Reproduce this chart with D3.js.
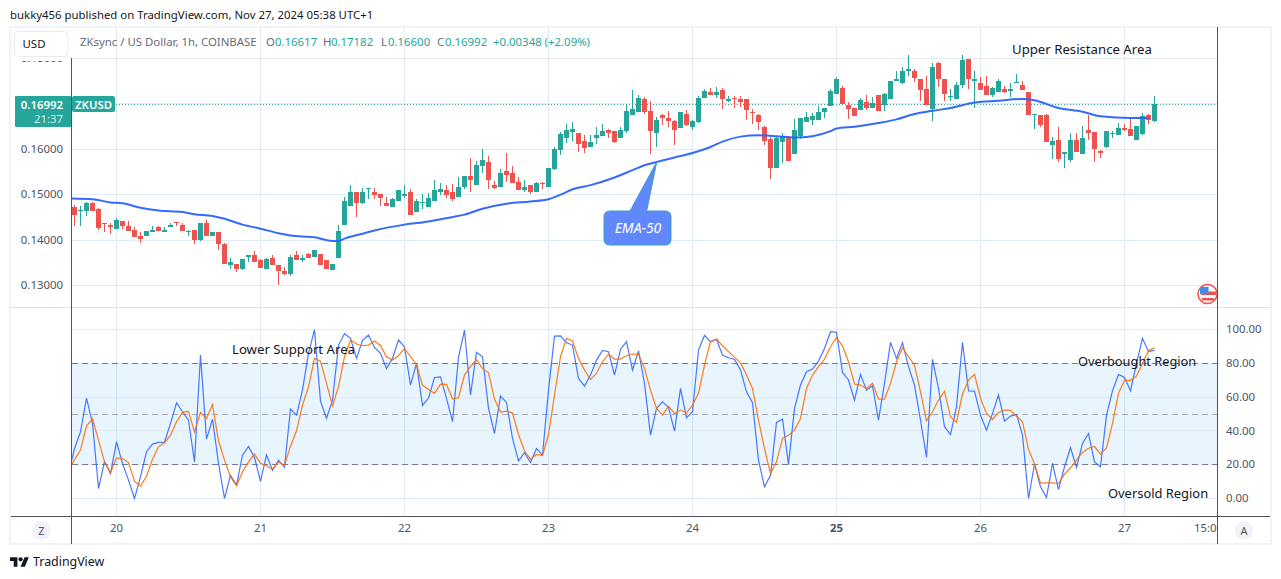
<!DOCTYPE html>
<html>
<head lang="en">
<meta charset="utf-8">
<title>ZKsync / US Dollar, 1h</title>
<style>
html, body { margin:0; padding:0; background:#fff; overflow:hidden; }
svg { display:block; }
text { font-family:"Noto Sans",sans-serif; }
</style>
<script src="https://cdn.jsdelivr.net/npm/d3@7"></script>
</head>
<body>
<script>
// Hourly candles, one entry per bar
var opens = [.1473,.1464,.1463,.1481,.1468,.1438,.1434,.1425,.1443,.1432,.1423,.1410,.1410,.1417,.1428,.1417,.1428,.1439,.1434,.1417,
.1423,.1401,.1437,.1410,.1417,.1392,.1346,.1348,.1337,.1363,.1366,.1357,.1337,.1361,.1344,.1332,.1326,.1368,.1355,.1370,
.1363,.1370,.1355,.1335,.1361,.1434,.1476,.1505,.1481,.1512,.1507,.1501,.1481,.1472,.1487,.1496,.1507,.1461,.1481,.1472,
.1487,.1507,.1510,.1505,.1494,.1518,.1541,.1521,.1563,.1572,.1521,.1516,.1552,.1547,.1527,.1510,.1521,.1507,.1525,.1516,
.1556,.1598,.1625,.1638,.1636,.1618,.1605,.1625,.1629,.1642,.1640,.1625,.1640,.1676,.1682,.1711,.1685,.1636,.1676,.1669,
.1662,.1647,.1678,.1649,.1660,.1713,.1727,.1720,.1731,.1707,.1713,.1711,.1711,.1682,.1676,.1649,.1623,.1558,.1616,.1627,
.1589,.1629,.1660,.1665,.1665,.1682,.1696,.1723,.1736,.1698,.1692,.1687,.1705,.1692,.1720,.1698,.1711,.1751,.1747,.1773,
.1773,.1754,.1734,.1689,.1791,.1756,.1716,.1711,.1742,.1800,.1751,.1747,.1740,.1720,.1727,.1734,.1729,.1747,.1742,.1727,
.1676,.1676,.1676,.1610,.1621,.1590,.1576,.1621,.1590,.1643,.1638,.1596,.1605,.1634,.1632,.1647,.1645,.1621,.1634,.1676,.16617];
var highs = [.1478,.1476,.1483,.1483,.1471,.1438,.1438,.1448,.1443,.1441,.1428,.1417,.1419,.1432,.1432,.1428,.1437,.1439,.1437,.1423,
.1423,.1437,.1445,.1417,.1417,.1394,.1361,.1348,.1359,.1366,.1375,.1359,.1361,.1368,.1344,.1341,.1368,.1375,.1368,.1372,
.1379,.1370,.1355,.1348,.1434,.1494,.1521,.1507,.1514,.1514,.1514,.1501,.1494,.1492,.1510,.1521,.1512,.1490,.1501,.1503,
.1532,.1525,.1521,.1523,.1538,.1541,.1580,.1574,.1600,.1585,.1530,.1556,.1592,.1563,.1538,.1532,.1521,.1527,.1527,.1558,
.1605,.1638,.1656,.1660,.1636,.1631,.1631,.1649,.1656,.1645,.1640,.1649,.1698,.1731,.1720,.1716,.1707,.1671,.1678,.1685,
.1665,.1682,.1687,.1665,.1718,.1733,.1735,.1738,.1735,.1718,.1718,.1718,.1711,.1689,.1678,.1651,.1627,.1629,.1636,.1629,
.1667,.1669,.1682,.1680,.1696,.1691,.1734,.1760,.1740,.1705,.1692,.1714,.1720,.1716,.1720,.1725,.1751,.1773,.1782,.1809,
.1778,.1754,.1762,.1791,.1793,.1756,.1734,.1749,.1807,.1800,.1773,.1760,.1762,.1738,.1756,.1740,.1747,.1767,.1751,.1727,
.1678,.1676,.1678,.1627,.1649,.1594,.1636,.1636,.1652,.1676,.1638,.1599,.1641,.1641,.1658,.1656,.1669,.1652,.1680,.1678,.17182];
var lows = [.1432,.1430,.1452,.1465,.1423,.1417,.1414,.1425,.1425,.1421,.1406,.1394,.1410,.1417,.1421,.1417,.1428,.1430,.1419,.1408,
.1392,.1397,.1408,.1410,.1379,.1348,.1337,.1330,.1335,.1352,.1352,.1339,.1337,.1346,.1301,.1324,.1321,.1357,.1352,.1361,
.1363,.1344,.1337,.1335,.1361,.1434,.1476,.1450,.1479,.1490,.1490,.1474,.1474,.1472,.1487,.1492,.1456,.1461,.1468,.1472,
.1487,.1499,.1492,.1485,.1494,.1512,.1507,.1521,.1547,.1512,.1512,.1516,.1527,.1525,.1510,.1505,.1501,.1505,.1512,.1516,
.1554,.1587,.1614,.1618,.1594,.1592,.1605,.1611,.1629,.1625,.1614,.1625,.1636,.1676,.1682,.1678,.1589,.1605,.1654,.1649,
.1609,.1647,.1651,.1642,.1658,.1713,.1720,.1713,.1689,.1704,.1691,.1693,.1665,.1656,.1642,.1609,.1534,.1558,.1569,.1574,
.1589,.1623,.1660,.1654,.1665,.1669,.1696,.1723,.1700,.1667,.1674,.1687,.1687,.1692,.1685,.1685,.1711,.1751,.1745,.1762,
.1749,.1707,.1698,.1663,.1738,.1707,.1707,.1711,.1736,.1734,.1692,.1731,.1720,.1716,.1727,.1725,.1716,.1747,.1731,.1676,
.1645,.1649,.1616,.1579,.1572,.1559,.1572,.1594,.1590,.1621,.1572,.1581,.1603,.1625,.1632,.1641,.1630,.1621,.1632,.1656,.16600];
var closes = [.1456,.1466,.1481,.1465,.1427,.1437,.1428,.1445,.1432,.1421,.1406,.1403,.1419,.1423,.1421,.1423,.1434,.1437,.1419,.1420,
.1401,.1437,.1408,.1417,.1392,.1348,.1352,.1337,.1359,.1366,.1352,.1339,.1359,.1346,.1332,.1326,.1363,.1357,.1361,.1361,
.1379,.1344,.1337,.1348,.1421,.1487,.1507,.1481,.1507,.1514,.1499,.1492,.1474,.1490,.1510,.1501,.1456,.1487,.1483,.1492,
.1510,.1512,.1499,.1490,.1518,.1541,.1532,.1565,.1576,.1532,.1514,.1547,.1543,.1525,.1510,.1516,.1507,.1525,.1523,.1558,
.1600,.1634,.1642,.1645,.1611,.1603,.1616,.1631,.1640,.1636,.1616,.1642,.1685,.1689,.1713,.1682,.1640,.1665,.1669,.1662,
.1642,.1682,.1654,.1662,.1713,.1729,.1720,.1727,.1711,.1711,.1711,.1704,.1687,.1680,.1660,.1618,.1558,.1625,.1629,.1574,
.1642,.1669,.1671,.1673,.1682,.1691,.1729,.1756,.1700,.1689,.1674,.1709,.1692,.1703,.1685,.1723,.1751,.1754,.1773,.1776,
.1758,.1731,.1698,.1782,.1756,.1723,.1718,.1742,.1798,.1754,.1756,.1731,.1720,.1736,.1751,.1727,.1734,.1749,.1731,.1676,
.1678,.1654,.1616,.1618,.1579,.1594,.1621,.1594,.1625,.1636,.1601,.1592,.1641,.1636,.1647,.1643,.1630,.1652,.1674,.1665,.16992];

// EMA-50, read at these bars only
var emaBars = [-1,3,6,8,11,14,18,20,23,25,28,31,34,36,40,43,44,45,48,50,55,59,63,65,68,72,76,79,81,83,86,90,93,95,97,100,103,106,108,111,114,117,120,123,126,127,130,134,137,140,143,146,150,154,158,160,164,168,171,176,179];
var emaValues = [.1492,.1490,.1483,.1481,.1471,.1465,.1462,.1457,.1453,.1447,.1434,.1425,.1415,.1410,.1406,.1398,.1398,.1403,.1414,.1421,.1434,.1441,.1451,.1456,.1469,.1480,.1485,.1490,.1500,.1512,.1521,.1538,.1554,.1565,.1572,.1582,.1592,.1605,.1617,.1628,.1631,.1629,.1626,.1629,.1640,.1646,.1650,.1658,.1666,.1678,.1685,.1691,.1703,.1707,.1711,.1708,.1691,.1683,.1673,.1669,.1669];

// Stochastic RSI, first entry is the bar before the first candle
var stochK = [14.8,29.6,39.5,59.5,44.5,5.9,21.9,14.8,33.6,20.8,10.9,0,12.8,27.7,32.2,33.2,33.4,44.5,56.7,51.4,46.4,21.7,85,35.2,47,20.8,0,13.8,7.9,25.7,30.8,24.3,10.1,25.9,16.6,22.7,18.6,53,49.4,64.2,86,100,57.7,47.4,58.3,90.9,97.6,94.9,83,93.5,96.8,89.5,86,77,83,93.9,89.9,67.2,80,55.1,59.5,71.7,72.1,59.3,45.5,83.6,
99.8,61.3,86.6,84,53.4,38.5,60.7,56.9,35.6,22.3,27.1,21.3,29.6,25.7,64.2,96.2,96.4,92.3,90.9,71.1,66.6,73.1,82,87.7,87,73.1,88.3,92.9,76.1,87.4,68.2,37.5,53.4,57.3,54,39.9,65.2,47.8,51.4,87.9,96.6,92.9,94.3,85,83.4,82.4,76.1,63.2,56.7,22.7,6.9,13.8,45.1,47,20.2,53.4,67.2,75.1,76.7,81.4,88.9,98.8,98.4,74.7,70.2,
58.3,73.5,64.2,66.8,46.4,68.2,92.5,83,92.3,78.1,67.2,46.4,24.3,82.4,65.2,42.5,37.9,54.3,92.5,63.8,63.6,49.4,40.5,50.4,61.3,45.8,48.8,49.8,37.5,0,20.4,6.9,0.6,20.8,5.3,18.8,30.2,18.4,32.6,38.5,21.7,18.8,49.4,63.8,73.5,71.7,63.8,80,94.9,87,87.9];
var stochD = [16.8,23,28.7,42.9,47.2,34.6,21.7,15.2,24.1,23.7,21.3,10.3,7.3,13.2,23.3,30.6,33,37.5,45.5,51,51.6,39.5,51,47.4,55.7,34.2,22.7,12.8,7.5,15.8,21.7,26.3,20.9,19.4,17.4,21.7,19.6,31,40.1,55.3,66.2,83,81.4,68.2,54.9,66.2,84,93.9,91.5,90.5,90.9,93.3,90.7,84,82,84.6,88.9,84,79.4,67.2,64.6,62.3,67.8,67.6,58.9,59.7,
73.1,78.1,82.2,76.9,74.5,58.9,51.2,51.8,50.6,37.9,28.1,23.3,26.1,25.5,37.9,61.3,84,94.9,93.3,83,76.1,70.6,74.1,81,85.6,82.6,82.6,84.6,85.6,85.4,77.1,64.2,53.4,49.4,54.7,50.4,52.4,50.8,55.3,62.3,79,92.9,94.5,90.5,87,83.6,80.4,73.1,65.2,46.4,29.6,14.8,21.7,35.6,37.5,40.5,47.4,65.2,73.1,78.1,82.6,89.9,95.5,90.3,81,
67.8,67.2,65.2,68.2,58.9,58.9,68.2,81,89.3,84,79,63.2,46,51.4,58.3,63.6,48.4,45.1,61.9,70.2,73.5,59.3,50.4,46.8,51,52.4,52.2,48.8,45.5,29.1,20.4,9.1,9.3,9.3,8.9,14.4,18.2,22.7,27.3,29.8,30.8,26.3,30,44.5,62.3,70,70,72.5,80,87.5,89.5];

var dayLabels = ["20","21","22","23","24","25","26","27"];
var dayBars = [7,31,55,79,103,127,151,175];
var priceTicks = [0.13,0.14,0.15,0.16,0.17,0.18];
var stochTicks = [0,20,40,60,80,100];
var lastPrice = 0.16992;

var width = 1281, height = 579;
var green = "#26a69a", red = "#ef5350", gridColor = "#e1ecf2", axisColor = "#50535e", labelColor = "#50535e";
var smallFont = 11.4;

var svg = d3.select("body").append("svg").attr("width", width).attr("height", height);
var defs = svg.append("defs");
defs.append("clipPath").attr("id", "plotClip").append("rect").attr("x", 72).attr("y", 27).attr("width", 1145).attr("height", 489);
defs.append("clipPath").attr("id", "axisClip").append("rect").attr("x", -60).attr("y", 61).attr("width", 60).attr("height", 246);
defs.append("clipPath").attr("id", "timeClip").append("rect").attr("x", 72).attr("y", 517).attr("width", 1145).attr("height", 26);
defs.append("clipPath").attr("id", "flagClip").append("rect").attr("x", 1190).attr("y", 275).attr("width", 27).attr("height", 32);

var x = d3.scaleLinear().domain([0, 180]).range([74.5, 1154.5]);
var y = d3.scaleLinear().domain([0.13, 0.18]).range([285.4, 58.6]);
var yStoch = d3.scaleLinear().domain([0, 100]).range([498.5, 329.7]);

function gridY(v) { return Math.floor(v) + 0.5; }

// frame
svg.append("rect").attr("x", 10).attr("y", 27).attr("width", 1261).attr("height", 517)
    .attr("fill", "#fff").attr("stroke", "#f0f3fa").attr("stroke-width", 2);

// grid
var plot = svg.append("g").attr("clip-path", "url(#plotClip)");
plot.selectAll(".vgrid").data(dayBars).enter().append("line")
    .attr("x1", function(d) { return x(d); })
    .attr("x2", function(d) { return x(d); })
    .attr("y1", 27).attr("y2", 516)
    .attr("stroke", gridColor);
plot.selectAll(".pgrid").data(priceTicks).enter().append("line")
    .attr("x1", 72).attr("x2", 1217)
    .attr("y1", function(d) { return gridY(y(d)); })
    .attr("y2", function(d) { return gridY(y(d)); })
    .attr("stroke", gridColor);

// stochastic band and levels
plot.append("rect").attr("x", 72).attr("width", 1145)
    .attr("y", gridY(yStoch(80))).attr("height", gridY(yStoch(20)) - gridY(yStoch(80)))
    .attr("fill", "rgba(33,150,243,0.1)");
plot.selectAll(".sgrid").data(stochTicks).enter().append("line")
    .attr("x1", 72).attr("x2", 1217)
    .attr("y1", function(d) { return gridY(yStoch(d)); })
    .attr("y2", function(d) { return gridY(yStoch(d)); })
    .attr("stroke", gridColor);
plot.selectAll(".level").data([80, 50, 20]).enter().append("line")
    .attr("x1", 72).attr("x2", 1217)
    .attr("y1", function(d) { return gridY(yStoch(d)); })
    .attr("y2", function(d) { return gridY(yStoch(d)); })
    .attr("stroke", function(d) { return d == 50 ? "#a8abb3" : "#787b86"; })
    .attr("stroke-dasharray", "6 4");

// pane separator
svg.append("line").attr("x1", 11).attr("x2", 1270).attr("y1", 307.5).attr("y2", 307.5).attr("stroke", "#e0e3eb");

// last price line
plot.append("line").attr("x1", 116).attr("x2", 1217)
    .attr("y1", gridY(y(lastPrice))).attr("y2", gridY(y(lastPrice)))
    .attr("stroke", green).attr("stroke-dasharray", "1 2");

// candles
var candles = plot.selectAll(".candle").data(d3.range(opens.length)).enter().append("g")
    .attr("fill", function(i) { return closes[i] >= opens[i] ? green : red; })
    .attr("stroke", function(i) { return closes[i] >= opens[i] ? green : red; })
    .attr("shape-rendering", "crispEdges");
candles.append("line")
    .attr("x1", function(i) { return x(i); })
    .attr("x2", function(i) { return x(i); })
    .attr("y1", function(i) { return y(highs[i]); })
    .attr("y2", function(i) { return y(lows[i]); });
candles.append("rect")
    .attr("x", function(i) { return x(i) - 2.5; })
    .attr("width", 5)
    .attr("y", function(i) { return y(Math.max(opens[i], closes[i])); })
    .attr("height", function(i) { return Math.max(1, Math.abs(y(opens[i]) - y(closes[i]))); })
    .attr("stroke", "none");

// EMA
var emaLine = d3.line()
    .x(function(d, i) { return x(emaBars[i]); })
    .y(function(d) { return y(d); })
    .curve(d3.curveMonotoneX);
plot.append("path").attr("d", emaLine(emaValues))
    .attr("fill", "none").attr("stroke", "#2962ff").attr("stroke-width", 2).attr("opacity", 0.95);

// stochastic lines
var stochLine = d3.line()
    .x(function(d, i) { return x(i - 1); })
    .y(function(d) { return yStoch(d); });
plot.append("path").attr("d", stochLine(stochK)).attr("fill", "none").attr("stroke", "#2962ff").attr("stroke-width", 1.2).attr("opacity", 0.85);
plot.append("path").attr("d", stochLine(stochD)).attr("fill", "none").attr("stroke", "#ff6d00").attr("stroke-width", 1.2).attr("opacity", 0.9);

// axes lines
svg.append("line").attr("x1", 71.5).attr("x2", 71.5).attr("y1", 58).attr("y2", 544).attr("stroke", axisColor);
svg.append("line").attr("x1", 1217.5).attr("x2", 1217.5).attr("y1", 27).attr("y2", 544).attr("stroke", axisColor);
svg.append("line").attr("x1", 11).attr("x2", 1270).attr("y1", 516.5).attr("y2", 516.5).attr("stroke", axisColor);

// price axis on the left
var priceAxis = svg.append("g").attr("transform", "translate(66,0)").attr("clip-path", "url(#axisClip)")
    .call(d3.axisLeft(y).offset(0).tickValues([0.13, 0.14, 0.15, 0.16, 0.18]).tickSize(0).tickFormat(d3.format(".5f")));
priceAxis.select(".domain").remove();
priceAxis.selectAll("text").attr("font-size", smallFont).attr("fill", labelColor).attr("font-family", "Noto Sans");

// stochastic axis on the right
var stochAxis = svg.append("g").attr("transform", "translate(1226,0)")
    .call(d3.axisRight(yStoch).offset(0).tickValues(stochTicks).tickSize(0).tickPadding(0).tickFormat(d3.format(".2f")));
stochAxis.select(".domain").remove();
stochAxis.selectAll("text").attr("font-size", smallFont).attr("fill", labelColor).attr("font-family", "Noto Sans");

// time axis
var timeGroup = svg.append("g").attr("clip-path", "url(#timeClip)");
var timeAxis = timeGroup.append("g").attr("transform", "translate(0,518)")
    .call(d3.axisBottom(x).offset(0).tickValues(dayBars.concat([189])).tickSize(0).tickPadding(6)
        .tickFormat(function(d) { return d == 189 ? "15:00" : dayLabels[dayBars.indexOf(d)]; }));
timeAxis.select(".domain").remove();
timeAxis.selectAll("text").attr("font-size", smallFont).attr("fill", labelColor).attr("font-family", "Noto Sans")
    .attr("font-weight", function(d) { return d == 127 ? "bold" : "normal"; });

// badge for last price
svg.append("rect").attr("x", 15).attr("y", 96).attr("width", 56).attr("height", 31).attr("rx", 1).attr("fill", green);
svg.append("rect").attr("x", 72).attr("y", 96).attr("width", 43).attr("height", 16).attr("rx", 2).attr("fill", green);
svg.append("text").attr("x", 63).attr("y", 108.5).attr("text-anchor", "end").attr("font-size", smallFont).attr("font-weight", 600).attr("fill", "#fff").text("0.16992");
svg.append("text").attr("x", 63).attr("y", 123).attr("text-anchor", "end").attr("font-size", smallFont).attr("fill", "#d4eeeb").text("21:37");
svg.append("text").attr("x", 93.5).attr("y", 108.5).attr("text-anchor", "middle").attr("font-size", smallFont).attr("font-weight", 600).attr("fill", "#fff").text("ZKUSD");

// currency box
svg.append("rect").attr("x", 14.5).attr("y", 31.5).attr("width", 53.5).attr("height", 25).attr("rx", 4)
    .attr("fill", "#fff").attr("stroke", "#e8ebf2");
svg.append("text").attr("x", 34).attr("y", 48).attr("text-anchor", "middle").attr("font-size", smallFont).attr("fill", "#131722").text("USD");

// legend row
svg.append("text").attr("x", 80).attr("y", 46).attr("font-size", smallFont).attr("fill", "#6a6d78").text("ZKsync / US Dollar, 1h, COINBASE");
var legendLabels = ["O", "H", "L", "C"];
var legendValues = ["0.16617", "0.17182", "0.16600", "0.16992"];
var legendLabelX = [266, 323, 381, 437];
var legendValueX = [275, 331, 388, 445];
svg.selectAll(".lgl").data(legendLabels).enter().append("text")
    .attr("x", function(d, i) { return legendLabelX[i]; }).attr("y", 46)
    .attr("font-size", smallFont).attr("fill", "#6a6d78").text(function(d) { return d; });
svg.selectAll(".lgv").data(legendValues).enter().append("text")
    .attr("x", function(d, i) { return legendValueX[i]; }).attr("y", 46)
    .attr("font-size", smallFont).attr("fill", green).text(function(d) { return d; });
svg.append("text").attr("x", 493).attr("y", 46).attr("font-size", smallFont).attr("fill", green).text("+0.00348 (+2.09%)");

// header and footer
svg.append("text").attr("x", 10).attr("y", 19).attr("font-size", smallFont).attr("fill", "#131722")
    .text("bukky456 published on TradingView.com, Nov 27, 2024 05:38 UTC+1");
svg.append("path").attr("transform", "translate(10,554) scale(0.53)")
    .attr("d", "M14 24H7V13H0V6h14v18zM28 24h-8l7.5-18h8L28 24z").attr("fill", "#131722");
svg.append("circle").attr("cx", 10 + 20 * 0.53).attr("cy", 554 + 10 * 0.53).attr("r", 2.1).attr("fill", "#131722");
svg.append("text").attr("x", 33).attr("y", 566).attr("font-size", 12.4).attr("fill", "#131722").text("TradingView");

// round buttons
svg.append("circle").attr("cx", 41.5).attr("cy", 530.5).attr("r", 9.5).attr("fill", "#f0f3fa");
svg.append("text").attr("x", 41.5).attr("y", 534.5).attr("text-anchor", "middle").attr("font-size", 11).attr("fill", "#50535e").text("Z");
svg.append("circle").attr("cx", 1244).attr("cy", 530.5).attr("r", 9.5).attr("fill", "#f0f3fa");
svg.append("text").attr("x", 1244).attr("y", 534.5).attr("text-anchor", "middle").attr("font-size", 11).attr("fill", "#50535e").text("A");

// flag marker
var flag = svg.append("g").attr("clip-path", "url(#flagClip)");
flag.append("circle").attr("cx", 1207.5).attr("cy", 294).attr("r", 9.5).attr("fill", "#fff").attr("stroke", "#ef5350").attr("stroke-width", 1.5);
flag.append("rect").attr("x", 1201).attr("y", 291.5).attr("width", 15).attr("height", 3.5).attr("fill", "#ef5350");
flag.append("rect").attr("x", 1202).attr("y", 298).attr("width", 12).attr("height", 2.5).attr("fill", "#ef5350");
flag.append("rect").attr("x", 1200).attr("y", 287).attr("width", 8.5).attr("height", 7).attr("fill", "#3b8fe8");

// notes
var noteTexts = ["Upper Resistance Area", "Lower Support Area", "Overbought Region", "Oversold Region"];
var noteX = [1012, 232, 1078, 1108];
var noteY = [54, 354, 366, 498];
var noteSize = [13.2, 13.2, 12.8, 12.9];
svg.selectAll(".note").data(noteTexts).enter().append("text")
    .attr("x", function(d, i) { return noteX[i]; })
    .attr("y", function(d, i) { return noteY[i]; })
    .attr("font-size", function(d, i) { return noteSize[i]; }).attr("fill", "#131722")
    .text(function(d) { return d; });

// EMA callout
svg.append("path")
    .attr("d", "M610 211H630L656.7 162L646.7 211H665Q671 211 671 217V239Q671 245 665 245H610Q604 245 604 239V217Q604 211 610 211Z")
    .attr("fill", "#6088fc").attr("stroke", "#3a9fc4").attr("stroke-width", 1);
svg.append("text").attr("x", 638).attr("y", 233).attr("text-anchor", "middle")
    .attr("font-size", 14).attr("font-style", "italic").attr("fill", "#fff").text("EMA-50");
</script>
</body>
</html>
